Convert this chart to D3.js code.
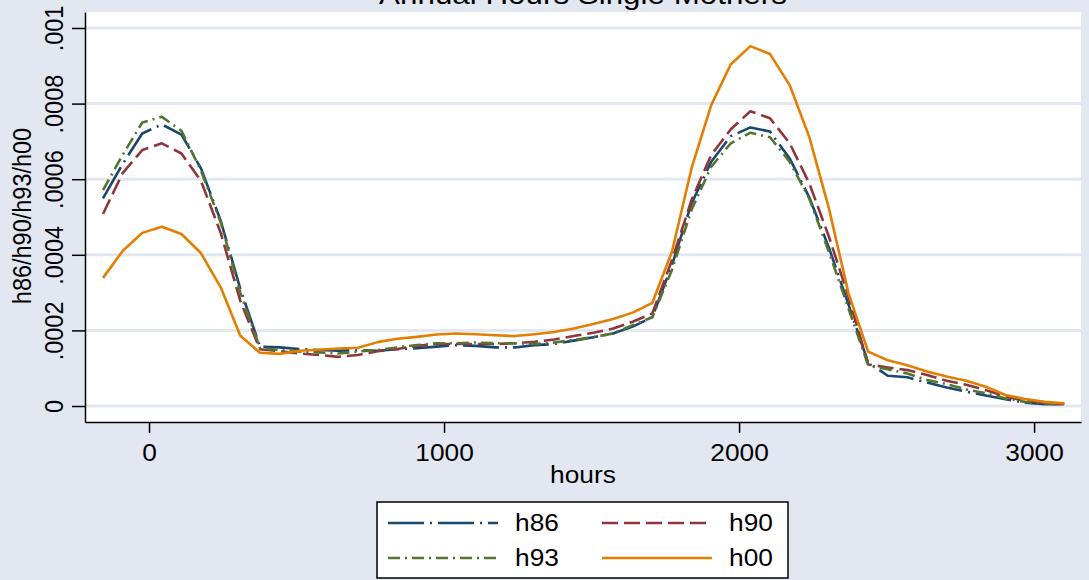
<!DOCTYPE html>
<html><head><meta charset="utf-8">
<script src="https://cdn.jsdelivr.net/npm/d3@7"></script>
<style>
body{margin:0;background:#e2e7f1}
svg{display:block}
text{font-family:"Liberation Sans",Arial,Helvetica,sans-serif;fill:#000}
</style>
</head><body>
<svg id="c" width="1089" height="580"></svg>
<script>
const hours = [-156,-89.5,-23,43.5,110,176.5,243,309.5,376,442.5,
  509,575.5,642,708.5,775,841.5,908,974.5,1041,1107.5,
  1174,1240.5,1307,1373.5,1440,1506.5,1573,1639.5,1706,1772.5,
  1839,1905.5,1972,2038.5,2105,2171.5,2238,2304.5,2371,2437.5,
  2504,2570.5,2637,2703.5,2770,2836.5,2903,2969.5,3036,3102.5];

const h86 = [.000549,.000640,.000721,.000745,.000718,.000628,.000490,.000310,.000157,.000155,
  .000151,.000148,.000146,.000148,.000146,.000150,.000153,.000157,.000161,.000159,
  .000155,.000155,.000161,.000164,.000173,.000182,.000192,.000210,.000235,.000373,
  .000536,.000646,.000714,.000737,.000726,.000655,.000552,.000419,.000268,.000115,
  .000080,.000076,.000062,.000049,.000038,.000028,.000018,.000009,.000005,.0000045];

const h90 = [.000508,.000616,.000677,.000695,.000668,.000595,.000458,.000278,.000150,.000145,
  .000139,.000135,.000130,.000135,.000145,.000151,.000159,.000164,.000164,.000164,
  .000164,.000166,.000170,.000176,.000185,.000194,.000205,.000223,.000245,.000386,
  .000545,.000664,.000732,.000780,.000761,.000695,.000589,.000448,.000289,.000110,
  .000102,.000095,.000082,.000067,.000056,.000042,.000025,.000014,.000009,.000005];

const h93 = [.000571,.000664,.000750,.000765,.000728,.000622,.000486,.000300,.000153,.000148,
  .000144,.000142,.000139,.000144,.000148,.000155,.000161,.000166,.000166,.000168,
  .000166,.000166,.000164,.000168,.000175,.000182,.000192,.000214,.000235,.000360,
  .000519,.000633,.000695,.000723,.000711,.000646,.000549,.000408,.000258,.000108,
  .000097,.000086,.000069,.000058,.000044,.000034,.000020,.000011,.000007,.0000045];

const h00 = [.000339,.000410,.000458,.000474,.000455,.000404,.000314,.000186,.000141,.000138,
  .000146,.000149,.000152,.000154,.000169,.000178,.000183,.000189,.000192,.000190,
  .000187,.000185,.000190,.000196,.000205,.000217,.000230,.000247,.000273,.000408,
  .000629,.000796,.000904,.000952,.000931,.000849,.000712,.000523,.000298,.000144,
  .000121,.000108,.000091,.000078,.000067,.000051,.000029,.0000185,.000011,.000007];

const xTicks = [0, 1000, 2000, 3000];
const xTickLabels = ["0", "1000", "2000", "3000"];
const yTicks = [0, .0002, .0004, .0006, .0008, .001];
const yTickLabels = ["0", ".0002", ".0004", ".0006", ".0008", ".001"];
const seriesNames = ["h86", "h90", "h93", "h00"];
const titleText = "Annual Hours Single Mothers";
const xTitle = "hours";
const yTitle = "h86/h90/h93/h00";

const BG = "#e2e7f1";
const SX = 1.12; // horizontal text stretch
const FS = 23.5;

const styles = {
  h86: {color: "#1a476f", dash: "36,6,2,6"},
  h90: {color: "#90353b", dash: "16,6"},
  h93: {color: "#55752f", dash: "12,5,2,5"},
  h00: {color: "#e37e00", dash: null}
};
const seriesData = {h86, h90, h93, h00};

const svg = d3.select("#c");
const L = 85, R = 1081, T = 12, B = 422;

svg.append("rect").attr("width", 1089).attr("height", 580).attr("fill", BG);
svg.append("rect").attr("x", L).attr("y", T).attr("width", R - L).attr("height", B - T).attr("fill", "#fff");

const x = d3.scaleLinear().domain([-217, 3159]).range([L, R]);
const y = d3.scaleLinear().domain([-0.0000423, 0.0010423]).range([B, T]);

// gridlines
svg.append("g").selectAll("line").data(yTicks).join("line")
  .attr("x1", L).attr("x2", R)
  .attr("y1", d => y(d)).attr("y2", d => y(d))
  .attr("stroke", BG).attr("stroke-width", 3);

// lines
const line = d3.line().x((d, i) => x(hours[i])).y(d => y(d));
seriesNames.forEach(n => {
  svg.append("path").datum(seriesData[n])
    .attr("d", line)
    .attr("fill", "none")
    .attr("stroke", styles[n].color)
    .attr("stroke-width", 2.6)
    .attr("stroke-linejoin", "round")
    .attr("stroke-dasharray", styles[n].dash);
});

// x axis
const gx = svg.append("g").attr("transform", `translate(0,${B})`)
  .call(d3.axisBottom(x).tickValues(xTicks).tickSize(11).tickSizeOuter(0).tickPadding(11)
    .tickFormat((d, i) => xTickLabels[i]));
gx.select(".domain").attr("stroke", "#000").attr("stroke-width", 1.5);
gx.selectAll(".tick line").attr("stroke", "#000").attr("stroke-width", 1.5);
gx.selectAll(".tick text").attr("font-size", FS).attr("font-family", null)
  .attr("transform", `scale(${SX},1)`);

// y axis
const gy = svg.append("g").attr("transform", `translate(${L},0)`)
  .call(d3.axisLeft(y).tickValues(yTicks).tickSize(13).tickSizeOuter(0)
    .tickFormat((d, i) => yTickLabels[i]));
gy.select(".domain").attr("stroke", "#000").attr("stroke-width", 1.5);
gy.selectAll(".tick line").attr("stroke", "#000").attr("stroke-width", 1.5);
gy.selectAll(".tick text").attr("font-size", FS).attr("font-family", null)
  .attr("x", 0).attr("y", 0).attr("dy", 0)
  .attr("text-anchor", "middle")
  .attr("transform", `translate(-22,0) scale(${SX},1) rotate(-90)`);

// axis titles
svg.append("text").text(xTitle).attr("font-size", FS).attr("text-anchor", "middle")
  .attr("transform", `translate(583,483) scale(${SX},1)`);
svg.append("text").text(yTitle).attr("font-size", FS).attr("text-anchor", "middle")
  .attr("transform", `translate(31,216) scale(${SX},1) rotate(-90)`);

// title (partly clipped at the top, as in the reference)
svg.append("text").text(titleText).attr("font-size", 28).attr("text-anchor", "middle")
  .attr("transform", `translate(583,4) scale(${SX},1)`);

// legend
const lg = svg.append("g");
lg.append("rect").attr("x", 377).attr("y", 502).attr("width", 411).attr("height", 76)
  .attr("fill", "#fff").attr("stroke", "#000").attr("stroke-width", 1.5);
const legendPos = [
  {n: "h86", kx: 388, ky: 523},
  {n: "h90", kx: 602, ky: 523},
  {n: "h93", kx: 388, ky: 558},
  {n: "h00", kx: 602, ky: 558}
];
legendPos.forEach(p => {
  lg.append("line").attr("x1", p.kx).attr("x2", p.kx + 110).attr("y1", p.ky).attr("y2", p.ky)
    .attr("stroke", styles[p.n].color).attr("stroke-width", 2.6)
    .attr("stroke-dasharray", styles[p.n].dash);
  lg.append("text").text(p.n).attr("font-size", FS)
    .attr("transform", `translate(${p.kx + 127},${p.ky + 8}) scale(${SX},1)`);
});
</script>
</body></html>
